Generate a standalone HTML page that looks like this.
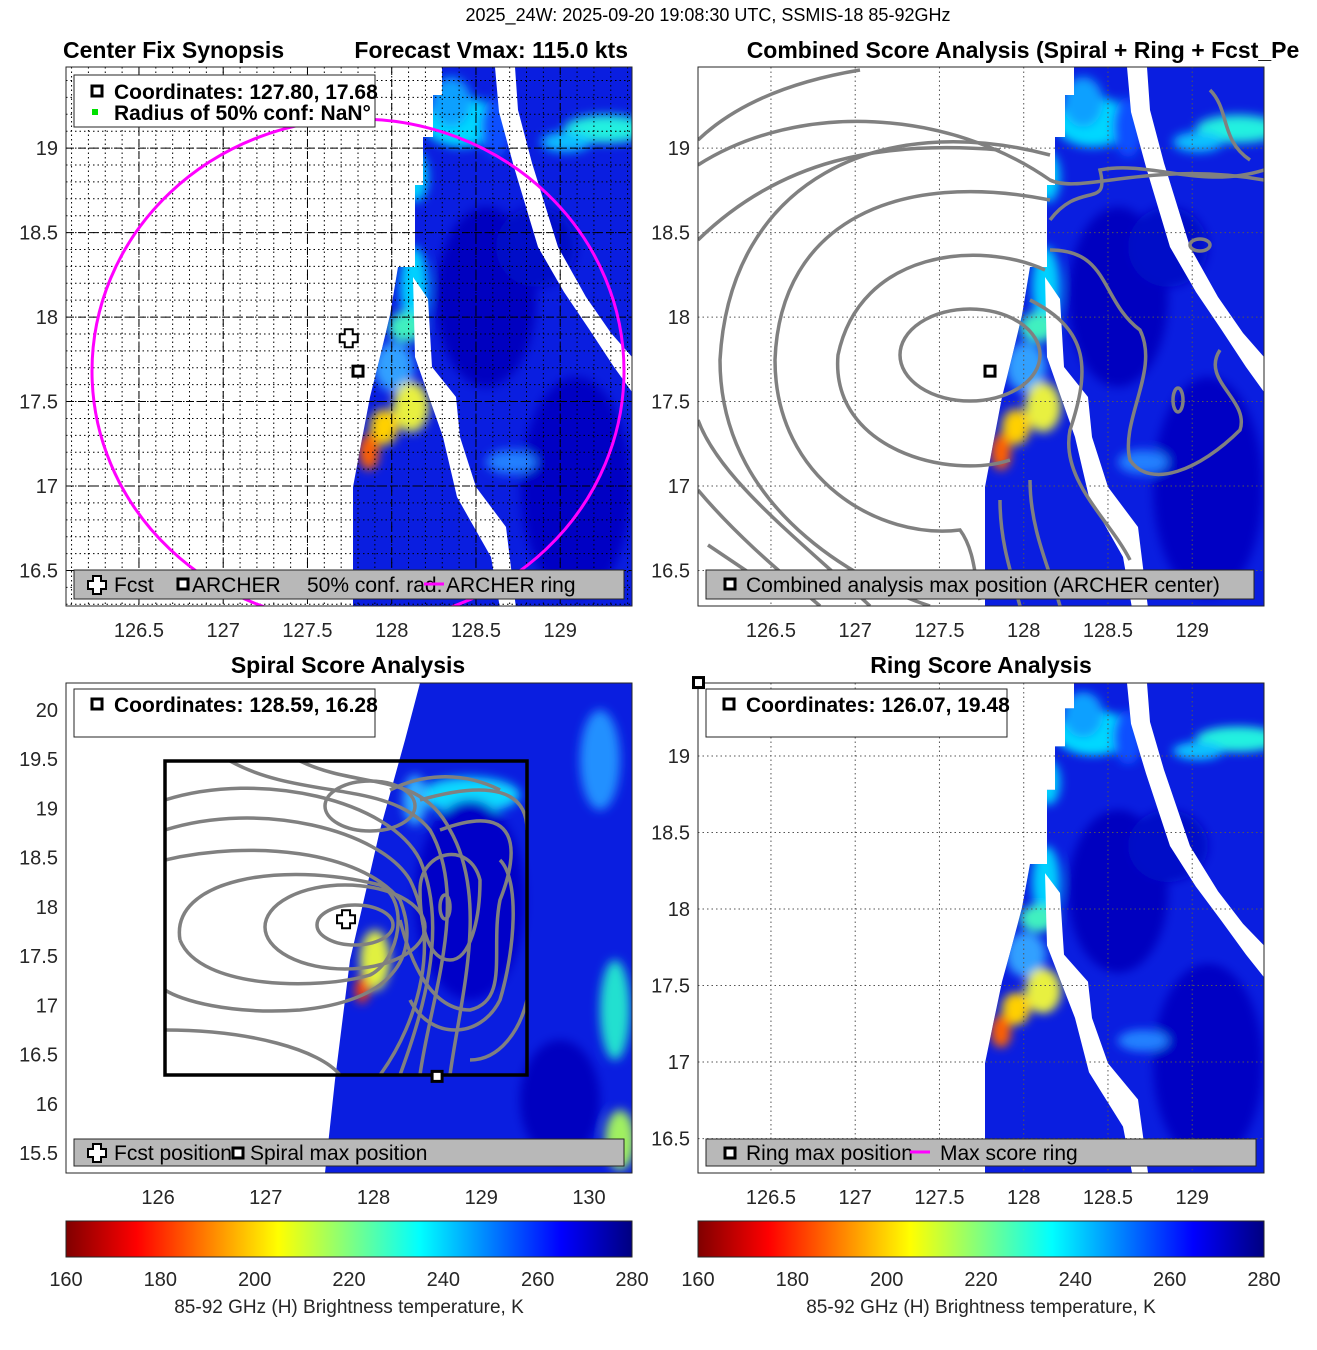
<!DOCTYPE html>
<html><head><meta charset="utf-8"><style>
html,body{margin:0;padding:0;background:#fff;}
svg{display:block;font-family:"Liberation Sans",sans-serif;}
.tk{font-size:20px;fill:#262626;}
.tt{font-size:23px;font-weight:bold;fill:#000;}
.lg{font-size:21px;fill:#000;}
.lgb{font-size:21px;font-weight:bold;fill:#000;}
.ct{fill:none;stroke:#808080;stroke-width:3.5;}
</style></head><body>
<svg id="fig" width="1317" height="1350" viewBox="0 0 1317 1350">
<defs>
  <linearGradient id="jetr" x1="0" x2="1" y1="0" y2="0">
    <stop offset="0" stop-color="#800000"/><stop offset="0.125" stop-color="#ff0000"/>
    <stop offset="0.375" stop-color="#ffff00"/><stop offset="0.5" stop-color="#80ff80"/>
    <stop offset="0.625" stop-color="#00ffff"/><stop offset="0.875" stop-color="#0000ff"/>
    <stop offset="1" stop-color="#000080"/>
  </linearGradient>
  <filter id="bl" x="-50%" y="-50%" width="200%" height="200%"><feGaussianBlur stdDeviation="5"/></filter>
  <clipPath id="swclip"><polygon points="376,0 376,28 367,28 367,70 357,70 357,118 349,118 349,200 332,200 324,248 314,290 304,330 296,372 287,420 287,541 566,541 566,0"/></clipPath>
  <g id="swath">
    <polygon fill="#0a1ee0" points="376,0 376,28 367,28 367,70 357,70 357,118 349,118 349,200 332,200 324,248 314,290 304,330 296,372 287,420 287,541 566,541 566,0"/>
    <g clip-path="url(#swclip)" filter="url(#bl)">
      <ellipse cx="420" cy="230" rx="50" ry="90" fill="#0000c0"/>
      <ellipse cx="510" cy="420" rx="55" ry="110" fill="#0000c4"/>
      <ellipse cx="470" cy="180" rx="40" ry="40" fill="#0008c8"/>
      <ellipse cx="395" cy="55" rx="38" ry="25" fill="#00d8ff"/>
      <ellipse cx="385" cy="35" rx="20" ry="25" fill="#10a0ff"/>
      <ellipse cx="540" cy="62" rx="42" ry="14" fill="#20f0e0"/>
      <ellipse cx="500" cy="75" rx="25" ry="10" fill="#10c0ff"/>
      <ellipse cx="350" cy="110" rx="12" ry="25" fill="#00d0ff"/>
      <ellipse cx="348" cy="220" rx="14" ry="40" fill="#00d0ff"/>
      <ellipse cx="340" cy="260" rx="18" ry="15" fill="#40f0c0"/>
      <ellipse cx="328" cy="300" rx="20" ry="25" fill="#30a0ff"/>
      <ellipse cx="345" cy="340" rx="18" ry="25" fill="#e8f040"/>
      <ellipse cx="318" cy="360" rx="14" ry="18" fill="#ffd000"/>
      <ellipse cx="303" cy="385" rx="10" ry="18" fill="#ff6000"/>
      <ellipse cx="445" cy="395" rx="25" ry="12" fill="#2080ff"/>
      <ellipse cx="430" cy="60" rx="15" ry="30" fill="#1050ff"/>
    </g>
    <polygon fill="#fff" points="429,0 449,0 452,43 466,96 492,180 520,230 545,266 566,290 566,325 548,300 523,262 498,225 472,180 448,100 433,45"/>
    <polygon fill="#fff" points="347,210 362,232 366,300 390,330 394,370 410,420 440,460 450,541 434,541 425,490 408,460 391,430 377,370 363,330 349,290"/>
  </g>
</defs>

<text x="708" y="21" text-anchor="middle" font-size="18" fill="#000">2025_24W: 2025-09-20 19:08:30 UTC, SSMIS-18 85-92GHz</text>

<!-- Panel 1 -->
<g>
  <text x="63" y="58" class="tt">Center Fix Synopsis</text>
  <text x="628" y="58" class="tt" text-anchor="end">Forecast Vmax: 115.0 kts</text>
  <svg x="66" y="67" width="566" height="539" overflow="hidden"><use href="#swath"/></svg>
  <g id="grid1"></g>
  <clipPath id="clip1"><rect x="66" y="67" width="566" height="539"/></clipPath>
  <ellipse cx="358" cy="371" rx="266" ry="252" fill="none" stroke="#ff00ff" stroke-width="3" clip-path="url(#clip1)"/>
  <rect x="66" y="67" width="566" height="539" fill="none" stroke="#262626" stroke-width="1"/>
  <g>
    <rect x="74" y="75" width="301" height="52" fill="#fff" stroke="#262626"/>
    <rect x="92" y="86" width="10" height="10" fill="#fff" stroke="#000" stroke-width="3"/>
    <text x="114" y="99" class="lgb">Coordinates: 127.80, 17.68</text>
    <rect x="92" y="109" width="6" height="6" fill="#00e000"/>
    <text x="114" y="120" class="lgb">Radius of 50% conf: NaN°</text>
  </g>
  <g>
    <rect x="74" y="570" width="550" height="29" fill="#b8b8b8" stroke="#262626"/>
    <path d="M93,578h8v5h5v8h-5v5h-8v-5h-5v-8h5z" fill="#fff" stroke="#000" stroke-width="2" transform="translate(0,-2)"/>
    <text x="114" y="592" class="lg">Fcst</text>
    <rect x="178" y="579" width="10" height="10" fill="#fff" stroke="#000" stroke-width="3"/>
    <text x="192" y="592" class="lg">ARCHER</text>
    <text x="307" y="592" class="lg">50% conf. rad.</text>
    <line x1="424" y1="584" x2="444" y2="584" stroke="#ff00ff" stroke-width="3"/>
    <text x="446" y="592" class="lg">ARCHER ring</text>
  </g>
</g>

<!-- Panel 2 -->
<g>
  <text x="1023" y="58" class="tt" text-anchor="middle">Combined Score Analysis (Spiral + Ring + Fcst_Pe</text>
  <svg x="698" y="67" width="566" height="539" overflow="hidden"><use href="#swath"/></svg>
  <g id="grid2"></g>
  <clipPath id="clip2"><rect x="698" y="67" width="566" height="539"/></clipPath>
  <g clip-path="url(#clip2)">
    <ellipse class="ct" cx="970" cy="355" rx="70" ry="46"/>
    <path class="ct" d="M1045,270 C980,240 860,250 838,355 C830,450 950,480 1010,460"/>
    <path class="ct" d="M1050,200 C900,170 780,220 775,360 C775,480 880,540 960,530 C975,550 975,580 980,600"/>
    <path class="ct" d="M1050,155 C880,110 730,180 720,360 C720,520 880,590 930,606"/>
    <path class="ct" d="M698,165 C800,100 950,110 1050,180 C1080,195 1150,160 1264,180"/>
    <path class="ct" d="M698,240 C780,160 880,140 1000,150"/>
    <path class="ct" d="M698,140 C740,100 800,80 860,70"/>
    <path class="ct" d="M698,420 C720,480 800,540 870,606"/>
    <path class="ct" d="M698,490 C740,540 790,580 820,606"/>
    <path class="ct" d="M708,545 L760,580"/>
    <path class="ct" d="M1050,220 C1080,180 1110,210 1100,170 C1150,160 1200,190 1264,170"/>
    <path class="ct" d="M1050,250 C1110,250 1100,300 1140,330 C1160,370 1120,420 1130,460 C1150,490 1200,470 1240,430 C1250,400 1200,380 1220,350 C1250,340 1264,330"/>
    <path class="ct" d="M1030,300 C1090,330 1090,370 1070,430 C1060,480 1110,520 1130,560"/>
    <path class="ct" d="M1000,500 C1000,540 1010,570 1020,606"/>
    <path class="ct" d="M1030,480 C1030,530 1050,570 1060,606"/>
    <path class="ct" d="M1210,90 C1230,110 1220,140 1250,160"/>
    <ellipse class="ct" cx="1178" cy="400" rx="5" ry="12"/>
    <ellipse class="ct" cx="1200" cy="245" rx="10" ry="6"/>
  </g>
  <rect x="698" y="67" width="566" height="539" fill="none" stroke="#262626"/>
  <g>
    <rect x="706" y="570" width="548" height="29" fill="#b8b8b8" stroke="#262626"/>
    <rect x="725" y="579" width="10" height="10" fill="#fff" stroke="#000" stroke-width="3"/>
    <text x="746" y="592" class="lg">Combined analysis max position (ARCHER center)</text>
  </g>
</g>

<!-- Panel 3 -->
<g>
  <text x="348" y="673" class="tt" text-anchor="middle">Spiral Score Analysis</text>
  <clipPath id="clip3"><rect x="66" y="683" width="566" height="490"/></clipPath>
  <clipPath id="sw3"><polygon points="420,683 405,740 380,830 350,960 335,1080 325,1173 632,1173 632,683"/></clipPath>
  <g clip-path="url(#clip3)">
    <polygon fill="#0a1ee0" points="420,683 405,740 380,830 350,960 335,1080 325,1173 632,1173 632,683"/>
    <g clip-path="url(#sw3)" filter="url(#bl)">
      <ellipse cx="470" cy="795" rx="50" ry="18" fill="#10d8ff"/>
      <ellipse cx="415" cy="800" rx="12" ry="25" fill="#30b0ff"/>
      <ellipse cx="600" cy="760" rx="20" ry="50" fill="#2090ff"/>
      <ellipse cx="615" cy="1010" rx="15" ry="50" fill="#20e0d0"/>
      <ellipse cx="620" cy="1140" rx="15" ry="30" fill="#a0f060"/>
      <ellipse cx="375" cy="960" rx="15" ry="30" fill="#e0f040"/>
      <ellipse cx="362" cy="990" rx="7" ry="13" fill="#ff4000"/>
      <ellipse cx="470" cy="900" rx="55" ry="100" fill="#0000c8"/>
      <ellipse cx="560" cy="1100" rx="40" ry="60" fill="#0000c0"/>
    </g>
  </g>
  <clipPath id="box3"><rect x="165" y="761" width="362" height="314"/></clipPath>
  <g clip-path="url(#box3)">
    <ellipse class="ct" cx="355" cy="925" rx="38" ry="20"/>
    <ellipse class="ct" cx="345" cy="927" rx="80" ry="42"/>
    <ellipse class="ct" cx="370" cy="806" rx="45" ry="25"/>
    <path class="ct" d="M180,940 C170,880 280,860 380,885 C410,900 400,960 370,975 C320,990 200,990 180,940"/>
    <path class="ct" d="M165,860 C250,840 360,850 400,900 C420,950 400,1000 300,1010 C230,1015 180,1000 165,990"/>
    <path class="ct" d="M165,830 C260,800 380,830 410,880 C440,940 420,1020 380,1075"/>
    <path class="ct" d="M165,800 C260,770 390,800 420,860 C450,930 420,1020 400,1075"/>
    <path class="ct" d="M230,761 C300,800 390,780 430,830 C470,900 430,1000 420,1075"/>
    <path class="ct" d="M300,761 C360,790 420,770 450,830 C490,900 460,1000 450,1075"/>
    <path class="ct" d="M165,1030 C250,1030 320,1050 340,1075"/>
    <path class="ct" d="M420,890 C420,850 470,840 480,880 C480,920 470,960 450,960 C430,960 420,930 420,890"/>
    <path class="ct" d="M440,830 C520,800 520,850 500,900 C490,950 510,1000 470,1010 C430,1010 410,960 400,920"/>
    <path class="ct" d="M420,800 C490,780 527,790 527,830 M500,860 C520,880 515,950 500,1000 C480,1040 430,1040 410,1000"/>
    <path class="ct" d="M470,1060 C500,1060 520,1030 527,1000"/>
    <path class="ct" d="M390,790 C420,775 460,770 500,790"/>
    <ellipse class="ct" cx="445" cy="907" rx="5" ry="12"/>
  </g>
  <rect x="165" y="761" width="362" height="314" fill="none" stroke="#000" stroke-width="3.5"/>
  <rect x="66" y="683" width="566" height="490" fill="none" stroke="#262626"/>
  <g>
    <rect x="74" y="689" width="301" height="48" fill="#fff" stroke="#262626"/>
    <rect x="92" y="699" width="10" height="10" fill="#fff" stroke="#000" stroke-width="3"/>
    <text x="114" y="712" class="lgb">Coordinates: 128.59, 16.28</text>
  </g>
  <g>
    <rect x="74" y="1139" width="550" height="27" fill="#b8b8b8" stroke="#262626"/>
    <path d="M93,1146h8v5h5v8h-5v5h-8v-5h-5v-8h5z" fill="#fff" stroke="#000" stroke-width="2" transform="translate(0,-2)"/>
    <text x="114" y="1160" class="lg">Fcst position</text>
    <rect x="233" y="1148" width="10" height="10" fill="#fff" stroke="#000" stroke-width="3"/>
    <text x="250" y="1160" class="lg">Spiral max position</text>
  </g>
</g>

<!-- Panel 4 -->
<g>
  <text x="981" y="673" class="tt" text-anchor="middle">Ring Score Analysis</text>
  <svg x="698" y="683" width="566" height="490" overflow="hidden"><g transform="scale(1,0.9053)"><use href="#swath"/></g></svg>
  <g id="grid4"></g>
  <rect x="698" y="683" width="566" height="490" fill="none" stroke="#262626"/>
  <g>
    <rect x="706" y="689" width="301" height="48" fill="#fff" stroke="#262626"/>
    <rect x="724" y="699" width="10" height="10" fill="#fff" stroke="#000" stroke-width="3"/>
    <text x="746" y="712" class="lgb">Coordinates: 126.07, 19.48</text>
  </g>
  <g>
    <rect x="706" y="1139" width="550" height="27" fill="#b8b8b8" stroke="#262626"/>
    <rect x="725" y="1148" width="10" height="10" fill="#fff" stroke="#000" stroke-width="3"/>
    <text x="746" y="1160" class="lg">Ring max position</text>
    <line x1="910" y1="1152" x2="930" y2="1152" stroke="#ff00ff" stroke-width="3"/>
    <text x="940" y="1160" class="lg">Max score ring</text>
  </g>
</g>

<!-- Colorbars -->
<g>
  <rect x="66" y="1221" width="566" height="36" fill="url(#jetr)" stroke="#262626"/>
  <text x="349" y="1313" text-anchor="middle" font-size="19" fill="#262626">85-92 GHz (H) Brightness temperature, K</text>
</g>
<g>
  <rect x="698" y="1221" width="566" height="36" fill="url(#jetr)" stroke="#262626"/>
  <text x="981" y="1313" text-anchor="middle" font-size="19" fill="#262626">85-92 GHz (H) Brightness temperature, K</text>
</g>
<g id="dyn"></g>
</svg>
<script>
// Axis tick values
const lonTicksA = [126.5, 127, 127.5, 128, 128.5, 129];
const latTicksA = [16.5, 17, 17.5, 18, 18.5, 19];
const lonTicks3 = [126, 127, 128, 129, 130];
const latTicks3 = [15.5, 16, 16.5, 17, 17.5, 18, 18.5, 19, 19.5, 20];
const cbarTicks = [160, 180, 200, 220, 240, 260, 280];
const cbarRange = [160, 280];
// Marker positions [lon, lat]
const fcstPos = [127.745, 17.875];
const archerPos = [127.80, 17.68];
const spiralMax = [128.59, 16.28];
const ringMax = [126.07, 19.48];

const NS = 'http://www.w3.org/2000/svg';
const dyn = document.getElementById('dyn');
function mk(tag, attrs, parent) {
  const e = document.createElementNS(NS, tag);
  for (const k in attrs) e.setAttribute(k, attrs[k]);
  (parent || dyn).appendChild(e);
  return e;
}
function panel(x0, y0, w, h, lon0, lon1, lat0, lat1) {
  return {x0, y0, w, h,
    sx: v => x0 + (v - lon0) / (lon1 - lon0) * w,
    sy: v => y0 + (lat1 - v) / (lat1 - lat0) * h};
}
const P1 = panel(66, 67, 566, 539, 126.067, 129.426, 16.29, 19.48);
const P2 = panel(698, 67, 566, 539, 126.067, 129.426, 16.29, 19.48);
const P3 = panel(66, 683, 566, 490, 125.146, 130.399, 15.299, 20.274);
const P4 = panel(698, 683, 566, 490, 126.067, 129.426, 16.275, 19.477);

function fmt(v) { return String(v); }
function axes(P, lons, lats, gridMode, gid) {
  const g = gid ? document.getElementById(gid) : dyn;
  if (gridMode === 'dense') {
    for (let v = 126.1; v < 129.45; v += 0.1) {
      const x = P.sx(v);
      const l = mk('line', {x1: x, x2: x, y1: P.y0, y2: P.y0 + P.h, stroke: '#000', 'stroke-width': 1, 'stroke-dasharray': '1.5,3'}, g);
      
      
    }
    for (let v = 16.3; v < 19.5; v += 0.1) {
      const y = P.sy(v);
      const l = mk('line', {x1: P.x0, x2: P.x0 + P.w, y1: y, y2: y, stroke: '#000', 'stroke-width': 1, 'stroke-dasharray': '1.5,3'}, g);
      
      
    }
  }
  lons.forEach(v => {
    const x = P.sx(v);
    if (gridMode) {
      const l = mk('line', {x1: x, x2: x, y1: P.y0, y2: P.y0 + P.h, stroke: gridMode === 'dense' ? '#000' : '#555', 'stroke-width': 1, 'stroke-dasharray': gridMode === 'dense' ? '8,4' : '1.5,3'}, g);
      
      
    }
    const t = mk('text', {x: x, y: P.y0 + P.h + 31, 'text-anchor': 'middle', class: 'tk'});
    t.textContent = fmt(v);
    
    
  });
  lats.forEach(v => {
    const y = P.sy(v);
    if (gridMode) {
      const l = mk('line', {x1: P.x0, x2: P.x0 + P.w, y1: y, y2: y, stroke: gridMode === 'dense' ? '#000' : '#555', 'stroke-width': 1, 'stroke-dasharray': gridMode === 'dense' ? '8,4' : '1.5,3'}, g);
      
      
    }
    const t = mk('text', {x: P.x0 - 8, y: y + 7, 'text-anchor': 'end', class: 'tk'});
    t.textContent = fmt(v);
    
    
  });
}
axes(P1, lonTicksA, latTicksA, 'dense', 'grid1');
axes(P2, lonTicksA, latTicksA, 'dot', 'grid2');
axes(P3, lonTicks3, latTicks3, null, null);
axes(P4, lonTicksA, latTicksA, 'dot', 'grid4');

function sq(P, pos, name) {
  const r = mk('rect', {x: P.sx(pos[0]) - 5, y: P.sy(pos[1]) - 5, width: 10, height: 10, fill: '#fff', stroke: '#000', 'stroke-width': 3});
  
  
}
function cross(P, pos, name) {
  const x = P.sx(pos[0]), y = P.sy(pos[1]);
  const p = mk('path', {d: `M${x-4},${y-9}h8v5h5v8h-5v5h-8v-5h-5v-8h5z`, fill: '#fff', stroke: '#000', 'stroke-width': 2});
  
  
}
cross(P1, fcstPos, 'fcst-marker');
sq(P1, archerPos, 'archer-marker');
sq(P2, archerPos, 'combined-max-marker');
cross(P3, fcstPos, 'fcst-marker-spiral');
sq(P3, spiralMax, 'spiral-max-marker');
sq(P4, ringMax, 'ring-max-marker');

[66, 698].forEach(x0 => {
  cbarTicks.forEach(v => {
    const x = x0 + (v - cbarRange[0]) / (cbarRange[1] - cbarRange[0]) * 566;
    const t = mk('text', {x: x, y: 1286, 'text-anchor': 'middle', class: 'tk'});
    t.textContent = v;
    
    
  });
});
</script>
</body></html>
